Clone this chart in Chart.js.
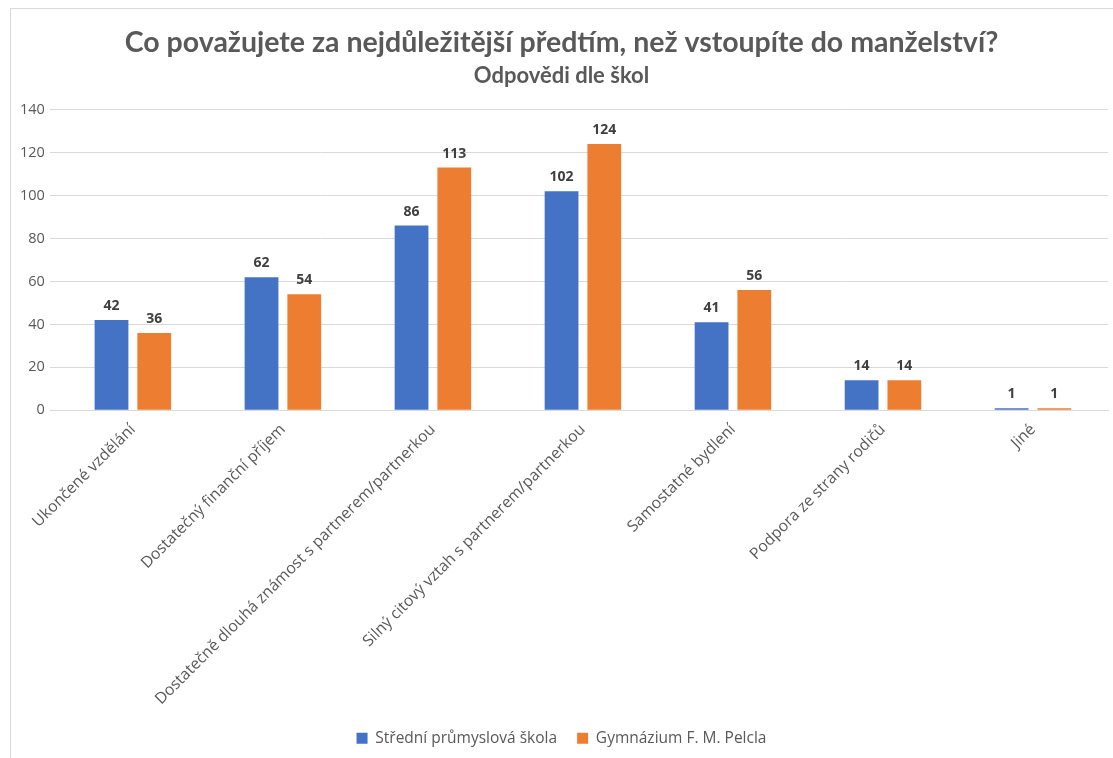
<!DOCTYPE html>
<html>
<head>
<meta charset="utf-8">
<script src="https://cdn.jsdelivr.net/npm/chart.js@4"></script>
<style>
  body { margin: 0; background: #fff; }
  #wrap { position: absolute; left: 10px; top: 8px; width: 1103px; height: 750px;
          border-left: 1px solid #d9d9d9; border-top: 1px solid #d9d9d9; background: #fff; }
</style>
</head>
<body>
<div id="wrap"><canvas id="chart" width="1103" height="750"></canvas></div>
<script>
const categories = [
  'Ukončené vzdělání',
  'Dostatečný finanční příjem',
  'Dostatečně dlouhá známost s partnerem/partnerkou',
  'Silný citový vztah s partnerem/partnerkou',
  'Samostatné bydlení',
  'Podpora ze strany rodičů',
  'Jiné'
];
const prumyslovka = [42, 62, 86, 102, 41, 14, 1];
const gymnazium = [36, 54, 113, 124, 56, 14, 1];
const yTicks = [0, 20, 40, 60, 80, 100, 120, 140];

// labels above the bars
const valueLabels = {
  id: 'valueLabels',
  afterDatasetsDraw(chart) {
    const ctx = chart.ctx;
    ctx.save();
    ctx.font = 'bold 14px "Open Sans"';
    ctx.fillStyle = '#404040';
    ctx.textAlign = 'center';
    ctx.textBaseline = 'bottom';
    chart.data.datasets.forEach((ds, i) => {
      chart.getDatasetMeta(i).data.forEach((bar, j) => {
        ctx.fillText(ds.data[j], bar.x, bar.y - 7);
      });
    });
    ctx.restore();
  }
};

new Chart(document.getElementById('chart'), {
  type: 'bar',
  data: {
    labels: categories,
    datasets: [
      { label: 'Střední průmyslová škola', data: prumyslovka, backgroundColor: '#4472C4' },
      { label: 'Gymnázium F. M. Pelcla', data: gymnazium, backgroundColor: '#ED7D31' }
    ]
  },
  options: {
    responsive: false,
    animation: false,
    layout: { padding: { left: 4, right: 6, top: 2, bottom: 3 } },
    datasets: { bar: { categoryPercentage: 0.57, barPercentage: 0.79 } },
    scales: {
      x: {
        grid: { display: false },
        border: { color: '#d9d9d9' },
        ticks: { color: '#595959', font: { family: '"Open Sans"', size: 15.75 },
                  maxRotation: 45, minRotation: 45, padding: 2 }
      },
      y: {
        min: 0, max: 140,
        afterBuildTicks(axis) { axis.ticks = yTicks.map(v => ({ value: v })); },
        grid: { color: '#d9d9d9' },
        border: { display: false },
        ticks: { color: '#595959', font: { family: '"Open Sans"', size: 14.5 }, padding: 5 }
      }
    },
    plugins: {
      title: {
        display: true,
        text: 'Co považujete za nejdůležitější předtím, než vstoupíte do manželství?',
        color: '#595959',
        font: { family: 'Lato', size: 28.5, weight: 'bold' },
        padding: { top: 15, bottom: 3 }
      },
      subtitle: {
        display: true,
        text: 'Odpovědi dle škol',
        color: '#595959',
        font: { family: 'Lato', size: 22, weight: 'bold' },
        padding: { bottom: 20 }
      },
      legend: {
        position: 'bottom',
        labels: { color: '#595959', font: { family: '"Open Sans"', size: 15.5 },
                  boxWidth: 11, boxHeight: 11, padding: 20 }
      },
      tooltip: { enabled: false }
    }
  },
  plugins: [valueLabels]
});
</script>
</body>
</html>
